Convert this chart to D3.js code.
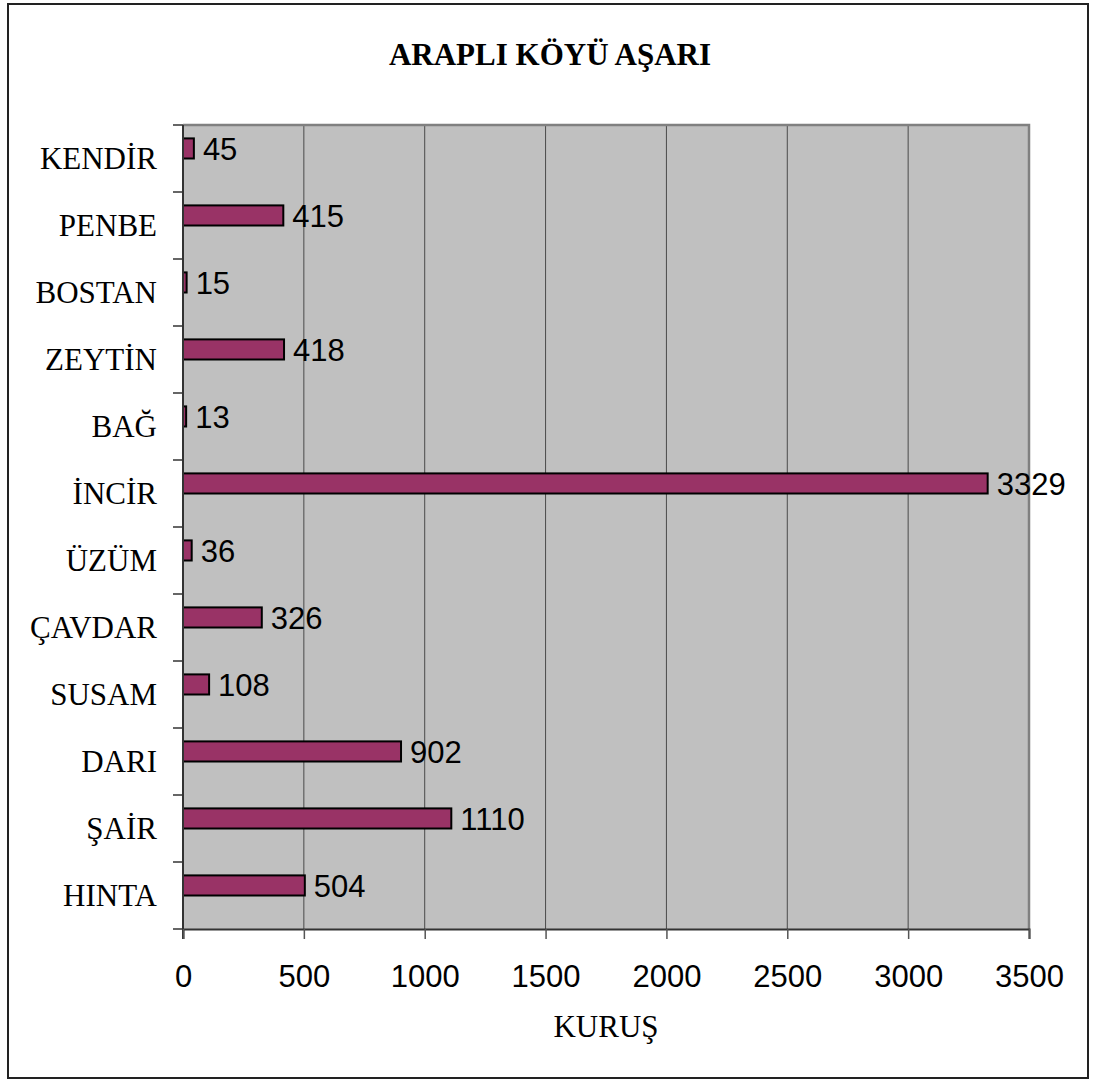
<!DOCTYPE html>
<head>
  <meta charset="utf-8">
  <script src="https://cdn.jsdelivr.net/npm/d3@7"></script>
  <style>
    body { margin:0; background:#fff; }
    svg { display:block; }
    .cat { font-family:"Liberation Serif","Times New Roman",serif; font-size:31px; }
    .num { font-family:"Liberation Sans",Arial,sans-serif; font-size:31px; }
  </style>
</head>
<body>
  <script>
    var categories = ["KENDİR","PENBE","BOSTAN","ZEYTİN","BAĞ","İNCİR","ÜZÜM","ÇAVDAR","SUSAM","DARI","ŞAİR","HINTA"];
    var values = [45, 415, 15, 418, 13, 3329, 36, 326, 108, 902, 1110, 504];
    var xTicks = [0, 500, 1000, 1500, 2000, 2500, 3000, 3500];
    var title = "ARAPLI KÖYÜ AŞARI";
    var xTitle = "KURUŞ";

    var width = 1094, height = 1079;
    var plot = { left:183, top:125, right:1029, bottom:929 };

    var svg = d3.select("body").append("svg")
      .attr("width", width).attr("height", height);

    // outer frame
    svg.append("rect")
      .attr("x", 8).attr("y", 4)
      .attr("width", 1080).attr("height", 1074)
      .attr("fill", "#fff").attr("stroke", "#222").attr("stroke-width", 2);

    var x = d3.scaleLinear().domain([0, 3500]).range([plot.left, plot.right]);
    var y = d3.scaleBand().domain(categories).range([plot.top, plot.bottom]).padding(0);
    var bw = y.bandwidth();

    // plot background
    svg.append("rect")
      .attr("x", plot.left).attr("y", plot.top)
      .attr("width", plot.right - plot.left).attr("height", plot.bottom - plot.top)
      .attr("fill", "#c0c0c0");

    // vertical gridlines
    svg.selectAll("line.grid")
      .data(xTicks.slice(1, -1))
      .enter().append("line")
      .attr("class", "grid")
      .attr("x1", function(d) { return x(d); }).attr("x2", function(d) { return x(d); })
      .attr("y1", plot.top).attr("y2", plot.bottom)
      .attr("stroke", "#4a4a4a").attr("stroke-width", 1);

    // plot border (top / right)
    svg.append("path")
      .attr("d", "M" + plot.left + "," + plot.top + "H" + plot.right + "V" + plot.bottom)
      .attr("fill", "none").attr("stroke", "#808080").attr("stroke-width", 2.5);

    // bars
    svg.selectAll("rect.bar")
      .data(categories)
      .enter().append("rect")
      .attr("class", "bar")
      .attr("x", x(0))
      .attr("y", function(d) { return y(d) + bw * 0.2; })
      .attr("width", function(d, i) { return x(values[i]) - x(0); })
      .attr("height", bw * 0.3)
      .attr("fill", "#993366").attr("stroke", "#000").attr("stroke-width", 2);

    // value labels
    svg.selectAll("text.val")
      .data(categories)
      .enter().append("text")
      .attr("class", "num val")
      .attr("x", function(d, i) { return x(values[i]) + 9; })
      .attr("y", function(d) { return y(d) + bw * 0.35; })
      .attr("dy", "0.36em")
      .text(function(d, i) { return values[i]; });

    // y axis
    var yAxis = svg.append("g")
      .attr("transform", "translate(" + plot.left + ",0)");
    yAxis.append("line")
      .attr("x1", 0).attr("x2", 0).attr("y1", plot.top).attr("y2", plot.bottom + 10)
      .attr("stroke", "#333").attr("stroke-width", 2);
    var yTickPos = categories.map(function(d) { return y(d); }).concat([plot.bottom]);
    yAxis.selectAll("line.tick")
      .data(yTickPos)
      .enter().append("line")
      .attr("x1", -10).attr("x2", 0)
      .attr("y1", function(d) { return d; }).attr("y2", function(d) { return d; })
      .attr("stroke", "#333").attr("stroke-width", 1.5);
    yAxis.selectAll("text")
      .data(categories)
      .enter().append("text")
      .attr("class", "cat")
      .attr("x", -26)
      .attr("y", function(d) { return y(d) + bw / 2; })
      .attr("dy", "0.35em")
      .attr("text-anchor", "end")
      .text(function(d) { return d; });

    // x axis
    var xAxis = svg.append("g")
      .attr("transform", "translate(0," + plot.bottom + ")")
      .call(d3.axisBottom(x).tickValues(xTicks).tickSize(10).tickPadding(26).tickFormat(d3.format("d")));
    xAxis.select(".domain").attr("stroke", "#333").attr("stroke-width", 2);
    xAxis.selectAll(".tick line").attr("stroke", "#555").attr("stroke-width", 1.5);
    xAxis.selectAll(".tick text")
      .attr("class", "num")
      .attr("fill", "#000")
      .style("font-size", "31px")
      .style("font-family", "'Liberation Sans', Arial, sans-serif");

    // titles
    svg.append("text")
      .attr("x", 550).attr("y", 65)
      .attr("text-anchor", "middle")
      .style("font-family", "'Liberation Serif','Times New Roman',serif")
      .style("font-weight", "bold").style("font-size", "31px")
      .text(title);

    svg.append("text")
      .attr("class", "cat")
      .attr("x", (plot.left + plot.right) / 2).attr("y", 1037)
      .attr("text-anchor", "middle")
      .text(xTitle);
  </script>
</body>
